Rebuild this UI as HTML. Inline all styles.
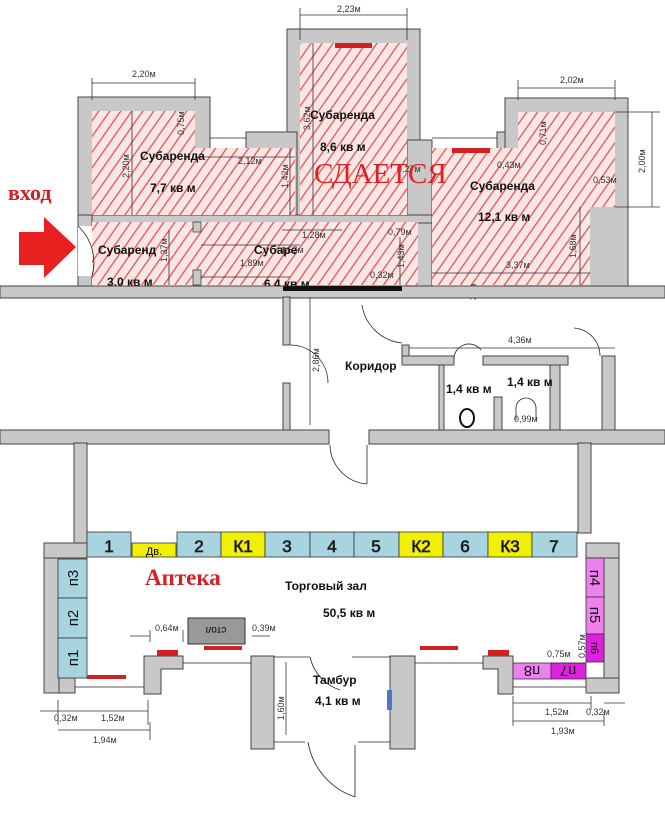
<!DOCTYPE html>
<html><head><meta charset="utf-8"><style>
html,body{margin:0;padding:0;background:#fff;}
svg{display:block;}
text{font-family:"Liberation Sans",sans-serif;}
.s{font-family:"Liberation Serif",serif !important;}
.d{font-size:9px;fill:#333;}
.b{font-size:12px;font-weight:bold;fill:#111;}
.w{fill:#c8c8c8;stroke:#444;stroke-width:1;}
.l{stroke:#222;stroke-width:0.8;fill:none;}
.c{stroke:#333;stroke-width:0.8;}
</style></head><body>
<svg width="665" height="815" viewBox="0 0 665 815" xmlns="http://www.w3.org/2000/svg">
<defs>
<pattern id="h" width="9" height="9" patternUnits="userSpaceOnUse" patternTransform="rotate(35)">
<rect width="9" height="9" fill="#fbe6e6"/>
<line x1="0" y1="0" x2="0" y2="9" stroke="#e05555" stroke-width="2.6"/>
</pattern>
</defs>

<rect class="w" x="287" y="29" width="133" height="190"/>
<rect class="w" x="78" y="97" width="132" height="122"/>
<rect class="w" x="246" y="132" width="51" height="87"/>
<rect class="w" x="497" y="132" width="21" height="20"/>
<rect class="w" x="505" y="98" width="123" height="190"/>
<rect class="w" x="407" y="140" width="25" height="148"/>
<rect class="w" x="78" y="215" width="354" height="8"/>
<rect class="w" x="78" y="215" width="14" height="73"/>
<rect x="300" y="43" width="107" height="172" fill="url(#h)"/>
<rect x="92" y="111" width="103" height="104" fill="url(#h)"/>
<rect x="195" y="148" width="100" height="67" fill="url(#h)"/>
<rect x="518" y="112" width="97" height="95" fill="url(#h)"/>
<rect x="432" y="148" width="158" height="137" fill="url(#h)"/>
<rect x="518" y="148" width="72" height="137" fill="url(#h)"/>
<rect x="92" y="222" width="326" height="63" fill="url(#h)"/>
<rect x="193" y="222" width="8" height="10" fill="#c8c8c8" stroke="#444" stroke-width="0.8"/>
<rect x="193" y="270" width="8" height="15" fill="#c8c8c8" stroke="#444" stroke-width="0.8"/>
<line class="l" x1="210" y1="138" x2="246" y2="138"/>
<line class="l" x1="432" y1="138" x2="497" y2="138"/>
<rect x="78" y="226" width="14" height="50" fill="#fff"/>
<path class="l" d="M78 226 A50 50 0 0 1 92 276"/>
<rect x="335" y="43" width="37" height="5" fill="#d42020"/>
<rect x="452" y="148" width="38" height="5" fill="#d42020"/>
<g class="c">
<line x1="300" y1="15" x2="407" y2="15"/><line x1="300" y1="8" x2="300" y2="40"/><line x1="407" y1="8" x2="407" y2="40"/>
<line x1="92" y1="83" x2="195" y2="83"/><line x1="92" y1="78" x2="92" y2="100"/><line x1="195" y1="78" x2="195" y2="100"/>
<line x1="518" y1="88" x2="615" y2="88"/><line x1="518" y1="80" x2="518" y2="100"/><line x1="615" y1="80" x2="615" y2="100"/>
<line x1="652" y1="112" x2="652" y2="207"/><line x1="615" y1="112" x2="660" y2="112"/><line x1="615" y1="207" x2="660" y2="207"/>
<line x1="132" y1="111" x2="132" y2="215"/>
<line x1="313" y1="43" x2="313" y2="215"/>
<line x1="195" y1="157" x2="295" y2="157"/>
<line x1="290" y1="148" x2="290" y2="215"/>
<line x1="580" y1="207" x2="580" y2="285"/>
<line x1="432" y1="273" x2="590" y2="273"/>
<line x1="201" y1="245" x2="300" y2="245"/>
<line x1="282" y1="230" x2="342" y2="230"/>
<line x1="201" y1="277" x2="290" y2="277"/>
<line x1="169" y1="230" x2="169" y2="285"/>
<line x1="400" y1="237" x2="400" y2="285"/>
</g>
<text class="d" x="337" y="12">2,23м</text>
<text class="d" x="132" y="77">2,20м</text>
<text class="d" x="560" y="83">2,02м</text>
<text class="d" transform="translate(645,173) rotate(-90)">2,00м</text>
<text class="d" transform="translate(129,178) rotate(-90)">2,20м</text>
<text class="d" transform="translate(184,135) rotate(-90)">0,75м</text>
<text class="d" transform="translate(310,130) rotate(-90)">3,62м</text>
<text class="d" transform="translate(288,188) rotate(-90)">1,42м</text>
<text class="d" transform="translate(546,145) rotate(-90)">0,71м</text>
<text class="d" transform="translate(576,258) rotate(-90)">1,68м</text>
<text class="d" transform="translate(404,268) rotate(-90)">1,43м</text>
<text class="d" transform="translate(167,262) rotate(-90)">1,37м</text>
<text class="d" x="238" y="164">2,12м</text>
<text class="d" x="497" y="168">0,43м</text>
<text class="d" x="593" y="183">0,53м</text>
<text class="d" x="506" y="268">3,37м</text>
<text class="d" x="302" y="238">1,28м</text>
<text class="d" x="280" y="253">4,57м</text>
<text class="d" x="240" y="266">1,89м</text>
<text class="d" x="388" y="235">0,79м</text>
<text class="d" x="370" y="278">0,32м</text>
<text class="d" x="397" y="172">0,27м</text>
<text class="d" transform="translate(476,300) rotate(-90)">25м</text>

<text class="b" x="140" y="160">Субаренда</text>
<text class="b" x="150" y="192">7,7 кв м</text>
<text class="b" x="310" y="119">Субаренда</text>
<text class="b" x="320" y="151">8,6 кв м</text>
<text class="b" x="470" y="190">Субаренда</text>
<text class="b" x="478" y="221">12,1 кв м</text>
<text class="b" x="98" y="254">Субаренд</text>
<text class="b" x="107" y="286">3,0 кв м</text>
<text class="b" x="254" y="254">Субаре</text>
<text class="b" x="264" y="288">6,4 кв м</text>
<text class="s" x="314" y="183" font-size="29" fill="#e02020">СДАЕТСЯ</text>
<text class="s" x="8" y="200" font-size="22" font-weight="bold" fill="#d42020">вход</text>
<polygon points="19,232 44,232 44,217 76,247 44,278 44,265 19,265" fill="#e82020"/>

<rect class="w" x="0" y="286" width="665" height="12"/>
<rect x="283" y="286" width="119" height="5" fill="#111"/>
<rect class="w" x="283" y="297" width="7" height="48"/>
<rect class="w" x="283" y="383" width="7" height="48"/>
<rect class="w" x="402" y="345" width="7" height="15"/>
<rect class="w" x="402" y="356" width="52" height="9"/>
<rect class="w" x="483" y="356" width="85" height="9"/>
<rect class="w" x="602" y="356" width="13" height="75"/>
<rect class="w" x="439" y="365" width="5" height="66"/>
<rect class="w" x="494" y="397" width="8" height="34"/>
<rect class="w" x="550" y="365" width="10" height="66"/>
<rect class="w" x="0" y="430" width="329" height="14"/>
<rect class="w" x="369" y="430" width="296" height="14"/>
<rect class="w" x="74" y="443" width="13" height="100"/>
<rect class="w" x="578" y="443" width="13" height="90"/>
<path class="l" d="M362 305 A45 45 0 0 0 402 343"/>
<path class="l" d="M290 345 A38 38 0 0 1 328 383"/>
<path class="l" d="M454 358 A15 15 0 0 1 481 350"/>
<path class="l" d="M574 328 A28 28 0 0 1 600 356"/>
<path class="l" d="M330 445 A40 40 0 0 0 367 484"/>
<line class="l" x1="367" y1="445" x2="367" y2="484"/>
<line class="c" x1="409" y1="348" x2="615" y2="348"/>
<line class="c" x1="310" y1="297" x2="310" y2="425"/>
<ellipse cx="467" cy="418" rx="7" ry="9" fill="none" stroke="#111" stroke-width="2"/>
<path class="l" d="M516 420 L516 408 A10 10 0 0 1 536 408 L536 420"/>
<text class="d" x="508" y="343">4,36м</text>
<text class="d" x="514" y="422">0,99м</text>
<text class="d" transform="translate(319,372) rotate(-90)">2,86м</text>
<text class="b" x="345" y="370">Коридор</text>
<text class="b" x="446" y="393" font-size="10">1,4 кв м</text>
<text class="b" x="507" y="386" font-size="10">1,4 кв м</text>

<rect class="w" x="44" y="543" width="15" height="150"/>
<rect class="w" x="44" y="543" width="43" height="15"/>
<rect class="w" x="604" y="543" width="15" height="150"/>
<rect class="w" x="586" y="543" width="33" height="15"/>
<rect class="w" x="586" y="678" width="33" height="15"/>
<rect class="w" x="59" y="678" width="16" height="15"/>
<polygon class="w" points="144,656 183,656 183,669 161,669 161,694 144,694"/>
<polygon class="w" points="483,656 513,656 513,694 498,694 498,669 483,669"/>
<rect class="w" x="251" y="656" width="23" height="93"/>
<rect class="w" x="390" y="656" width="25" height="93"/>
<line class="l" x1="75" y1="687" x2="144" y2="687"/>
<line class="l" x1="183" y1="663" x2="251" y2="663"/>
<line class="l" x1="274" y1="657" x2="310" y2="657"/>
<line class="l" x1="352" y1="657" x2="390" y2="657"/>
<line class="l" x1="274" y1="742" x2="305" y2="742"/>
<line class="l" x1="358" y1="742" x2="390" y2="742"/>
<line class="l" x1="415" y1="663" x2="483" y2="663"/>
<line class="l" x1="513" y1="687" x2="586" y2="687"/>
<path class="l" d="M310 657 A45 45 0 0 0 340 690"/>
<path class="l" d="M308 742 A70 70 0 0 0 355 797"/>
<line class="l" x1="355" y1="745" x2="355" y2="797"/>
<rect x="387" y="690" width="5" height="20" fill="#4a78c8"/>

<g stroke="#333" stroke-width="0.8" font-size="17" text-anchor="middle">
<rect x="87" y="532" width="44" height="25" fill="#a8d4e0"/><text x="109" y="552">1</text>
<rect x="132" y="543" width="44" height="14" fill="#f0f000"/>
<rect x="177" y="532" width="44" height="25" fill="#a8d4e0"/><text x="199" y="552">2</text>
<rect x="221" y="532" width="44" height="25" fill="#f0f000"/><text x="243" y="552">К1</text>
<rect x="265" y="532" width="45" height="25" fill="#a8d4e0"/><text x="287" y="552">3</text>
<rect x="310" y="532" width="44" height="25" fill="#a8d4e0"/><text x="332" y="552">4</text>
<rect x="354" y="532" width="45" height="25" fill="#a8d4e0"/><text x="376" y="552">5</text>
<rect x="399" y="532" width="44" height="25" fill="#f0f000"/><text x="421" y="552">К2</text>
<rect x="443" y="532" width="45" height="25" fill="#a8d4e0"/><text x="465" y="552">6</text>
<rect x="488" y="532" width="44" height="25" fill="#f0f000"/><text x="510" y="552">К3</text>
<rect x="532" y="532" width="45" height="25" fill="#a8d4e0"/><text x="554" y="552">7</text>
<rect x="58" y="559" width="29" height="39" fill="#a8d4e0"/>
<rect x="58" y="598" width="29" height="40" fill="#a8d4e0"/>
<rect x="58" y="638" width="29" height="40" fill="#a8d4e0"/>
<rect x="586" y="558" width="18" height="39" fill="#f080f0"/>
<rect x="586" y="597" width="18" height="37" fill="#f080f0"/>
<rect x="586" y="634" width="18" height="28" fill="#e020e0"/>
<rect x="513" y="663" width="38" height="16" fill="#f080f0"/>
<rect x="551" y="663" width="35" height="16" fill="#e020e0"/>
</g>
<text x="154" y="555" font-size="11" text-anchor="middle">Дв.</text>
<g font-size="15" text-anchor="middle" fill="#111">
<text transform="translate(78,578) rotate(-90)">п3</text>
<text transform="translate(78,618) rotate(-90)">п2</text>
<text transform="translate(78,658) rotate(-90)">п1</text>
<text transform="translate(590,578) rotate(90)">п4</text>
<text transform="translate(590,615) rotate(90)">п5</text>
<text transform="translate(591,648) rotate(90)" font-size="11">п6</text>
<text transform="translate(532,666) rotate(180)">п8</text>
<text transform="translate(568,666) rotate(180)">п7</text>
</g>
<rect x="188" y="618" width="57" height="26" fill="#999" stroke="#333"/>
<text transform="translate(216,627) rotate(180)" font-size="10" text-anchor="middle">стол</text>
<rect x="87" y="675" width="39" height="4" fill="#d42020"/>
<rect x="204" y="646" width="38" height="4" fill="#d42020"/>
<rect x="420" y="646" width="38" height="4" fill="#d42020"/>
<rect x="157" y="650" width="21" height="6" fill="#d42020"/>
<rect x="488" y="650" width="21" height="6" fill="#d42020"/>

<text class="s" x="145" y="585" font-size="23" font-weight="bold" fill="#d42020">Аптека</text>
<text class="b" x="285" y="590">Торговый зал</text>
<text class="b" x="323" y="617">50,5 кв м</text>
<text class="b" x="313" y="684">Тамбур</text>
<text class="b" x="315" y="705">4,1 кв м</text>

<g class="c">
<line x1="58" y1="711" x2="148" y2="711"/><line x1="58" y1="700" x2="58" y2="725"/><line x1="148" y1="700" x2="148" y2="725"/><line x1="40" y1="711" x2="58" y2="711"/>
<line x1="58" y1="730" x2="150" y2="730"/><line x1="150" y1="722" x2="150" y2="740"/>
<line x1="513" y1="703" x2="591" y2="703"/><line x1="513" y1="696" x2="513" y2="726"/><line x1="591" y1="696" x2="591" y2="710"/><line x1="604" y1="703" x2="625" y2="703"/>
<line x1="513" y1="721" x2="604" y2="721"/><line x1="604" y1="712" x2="604" y2="726"/>
<line x1="130" y1="636" x2="150" y2="636"/><line x1="150" y1="630" x2="150" y2="642"/><line x1="183" y1="630" x2="183" y2="642"/>
<line x1="252" y1="636" x2="270" y2="636"/>
<line x1="286" y1="662" x2="286" y2="735"/>
<line x1="550" y1="663" x2="586" y2="663"/>
</g>
<text class="d" x="54" y="721">0,32м</text>
<text class="d" x="101" y="721">1,52м</text>
<text class="d" x="93" y="743">1,94м</text>
<text class="d" x="545" y="715">1,52м</text>
<text class="d" x="586" y="715">0,32м</text>
<text class="d" x="551" y="734">1,93м</text>
<text class="d" x="155" y="631">0,64м</text>
<text class="d" x="252" y="631">0,39м</text>
<text class="d" x="547" y="657">0,75м</text>
<text class="d" transform="translate(284,720) rotate(-90)">1,60м</text>
<text class="d" transform="translate(585,658) rotate(-90)">0,57м</text>
</svg>
</body></html>
